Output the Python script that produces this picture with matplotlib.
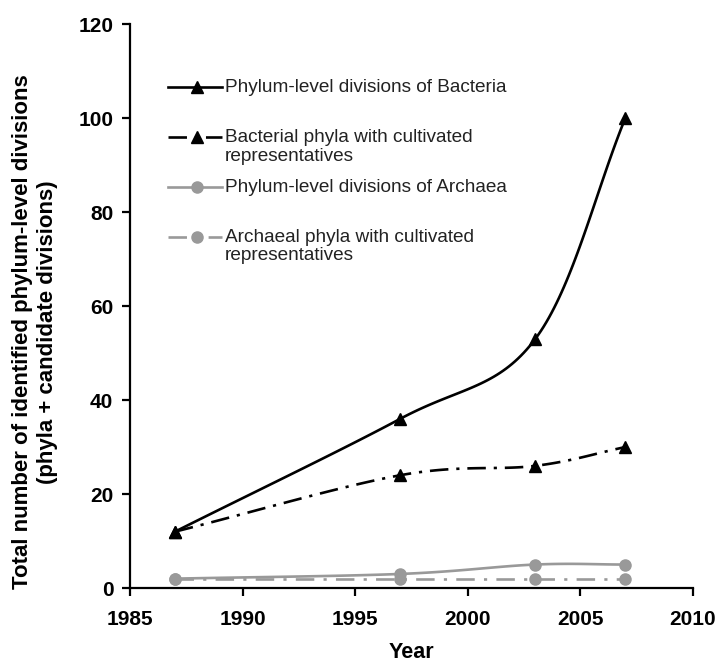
import numpy as np
import matplotlib.pyplot as plt

years = [1987, 1997, 2003, 2007]
bacteria_all = [12, 36, 53, 100]
bacteria_cult = [12, 24, 26, 30]
archaea_all = [2, 3, 5, 5]
archaea_cult = [2, 2, 2, 2]

labels = ['Phylum-level divisions of Bacteria',
          'Bacterial phyla with cultivated\nrepresentatives',
          'Phylum-level divisions of Archaea',
          'Archaeal phyla with cultivated\nrepresentatives']


# Excel-style smoothed line (Catmull-Rom through the points)
def smooth(x, y, n=40):
    x = np.asarray(x, float)
    y = np.asarray(y, float)
    px = np.concatenate([[2 * x[0] - x[1]], x, [2 * x[-1] - x[-2]]])
    py = np.concatenate([[2 * y[0] - y[1]], y, [2 * y[-1] - y[-2]]])
    xs, ys = [], []
    t = np.linspace(0, 1, n)
    for i in range(1, len(px) - 2):
        p0, p1, p2, p3 = px[i - 1], px[i], px[i + 1], px[i + 2]
        q0, q1, q2, q3 = py[i - 1], py[i], py[i + 1], py[i + 2]
        bx = 0.5 * (2 * p1 + (-p0 + p2) * t + (2 * p0 - 5 * p1 + 4 * p2 - p3) * t**2 + (-p0 + 3 * p1 - 3 * p2 + p3) * t**3)
        by = 0.5 * (2 * q1 + (-q0 + q2) * t + (2 * q0 - 5 * q1 + 4 * q2 - q3) * t**2 + (-q0 + 3 * q1 - 3 * q2 + q3) * t**3)
        xs.append(bx)
        ys.append(by)
    return np.concatenate(xs), np.concatenate(ys)


plt.rcParams['font.family'] = ['Liberation Sans', 'DejaVu Sans']

fig = plt.figure(figsize=(7.18, 6.69), dpi=100)
ax = fig.add_axes([0.181, 0.121, 0.784, 0.843])

gray = '#999999'
styles = [
    ('black', '-', '^'),
    ('black', (0, (7, 3, 1.2, 3)), '^'),
    (gray, '-', 'o'),
    (gray, (0, (7, 3.5, 1.2, 3.5)), 'o'),
]
data = [bacteria_all, bacteria_cult, archaea_all, archaea_cult]

for vals, (col, ls, mk) in zip(data, styles):
    sx, sy = smooth(years, vals)
    ax.plot(sx, sy, color=col, linestyle=ls, linewidth=1.9)
    ax.plot(years, vals, linestyle='none', marker=mk, color=col, markersize=8)

ax.set_xlim(1985, 2010)
ax.set_ylim(0, 120)
ax.set_xticks(range(1985, 2011, 5))
ax.set_yticks(range(0, 121, 20))
for s in ['top', 'right']:
    ax.spines[s].set_visible(False)
for s in ['left', 'bottom']:
    ax.spines[s].set_linewidth(1.6)
ax.tick_params(axis='both', direction='out', length=6, width=1.6, labelsize=15)
ax.tick_params(axis='x', pad=10)
ax.tick_params(axis='y', pad=6)
for lbl in ax.get_xticklabels() + ax.get_yticklabels():
    lbl.set_fontweight('bold')

ax.set_xlabel('Year', fontsize=15.5, fontweight='bold', labelpad=9)
ax.set_ylabel('Total number of identified phylum-level divisions\n(phyla + candidate divisions)',
              fontsize=16, fontweight='bold', linespacing=1.25)
ax.yaxis.set_label_coords(-0.127, 0.454)

# hand-placed legend (Excel-like uneven spacing)
rows_y = [0.888, 0.800, 0.711, 0.623]
for (col, ls, mk), lab, ry in zip(styles, labels, rows_y):
    ax.plot([0.0675, 0.163], [ry, ry], transform=ax.transAxes, color=col,
            linestyle=ls, linewidth=1.9, clip_on=False)
    ax.plot([0.1185], [ry], transform=ax.transAxes, color=col, marker=mk,
            markersize=8, linestyle='none', clip_on=False)
    ax.text(0.169, ry + 0.014, lab, transform=ax.transAxes, fontsize=13.7,
            va='top', ha='left', linespacing=1.12, color='#222222')

fig.savefig('out.png', dpi=100)
